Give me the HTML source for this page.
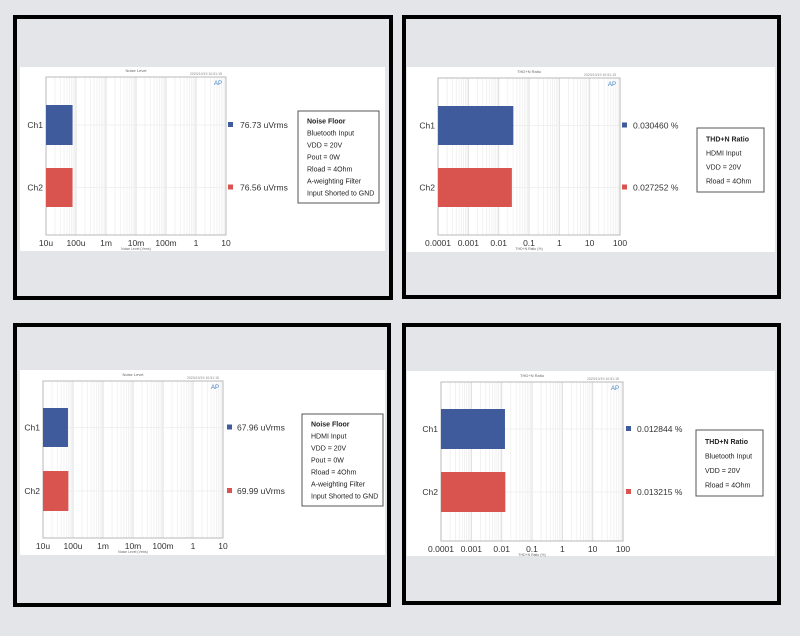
<!DOCTYPE html>
<html><head><meta charset="utf-8"><style>
html,body{margin:0;padding:0;background:#e3e5e8;}
svg{display:block;font-family:"Liberation Sans",sans-serif;}
</style></head><body>
<svg id="c" width="800" height="636" viewBox="0 0 800 636"></svg>
<script>
const channels = ["Ch1","Ch2"];
const p1Values = [76.73e-6, 76.56e-6];
const p2Values = [0.030460, 0.027252];
const p3Values = [67.96e-6, 69.99e-6];
const p4Values = [0.012844, 0.013215];
const p1Labels = ["76.73  uVrms","76.56  uVrms"];
const p2Labels = ["0.030460 %","0.027252 %"];
const p3Labels = ["67.96  uVrms","69.99  uVrms"];
const p4Labels = ["0.012844 %","0.013215 %"];
const noiseTicks = ["10u","100u","1m","10m","100m","1","10"];
const thdTicks = ["0.0001","0.001","0.01","0.1","1","10","100"];
const p1Legend = ["Noise Floor","Bluetooth Input","VDD = 20V","Pout = 0W","Rload = 4Ohm","A-weighting Filter","Input Shorted to GND"];
const p2Legend = ["THD+N Ratio","HDMI Input","VDD = 20V","Rload = 4Ohm"];
const p3Legend = ["Noise Floor","HDMI Input","VDD = 20V","Pout = 0W","Rload = 4Ohm","A-weighting Filter","Input Shorted to GND"];
const p4Legend = ["THD+N Ratio","Bluetooth Input","VDD = 20V","Rload = 4Ohm"];

const NS="http://www.w3.org/2000/svg";
const svg=document.getElementById('c');
function mk(tag,attrs,parent,name){const e=document.createElementNS(NS,tag);for(const k in attrs)e.setAttribute(k,attrs[k]);


(parent||svg).appendChild(e);return e;}

const panels=[
 {id:'p1',values:p1Values,labels:p1Labels,ticks:noiseTicks,legend:p1Legend,min:1e-5,title:'Noise Level',axis:'Noise Level (Vrms)',
  b:[13,15,393,300],w:[20,67,385,251],pl:[46,77,226,235],bars:[[105,145],[168,207]],sq:228,tx:240,lg:[298,111,379,203]},
 {id:'p2',values:p2Values,labels:p2Labels,ticks:thdTicks,legend:p2Legend,min:1e-4,title:'THD+N Ratio',axis:'THD+N Ratio (%)',
  b:[402,15,781,299],w:[407,67,775,252],pl:[438,78,620,235],bars:[[106,145],[168,207]],sq:622,tx:633,lg:[697,128,764,192]},
 {id:'p3',values:p3Values,labels:p3Labels,ticks:noiseTicks,legend:p3Legend,min:1e-5,title:'Noise Level',axis:'Noise Level (Vrms)',
  b:[13,323,391,607],w:[20,370,385,555],pl:[43,381,223,538],bars:[[408,447],[471,511]],sq:227,tx:237,lg:[302,414,383,506]},
 {id:'p4',values:p4Values,labels:p4Labels,ticks:thdTicks,legend:p4Legend,min:1e-4,title:'THD+N Ratio',axis:'THD+N Ratio (%)',
  b:[402,323,781,605],w:[407,371,775,556],pl:[441,382,623,541],bars:[[409,449],[472,512]],sq:626,tx:637,lg:[696,430,763,496]}
];
const colors=['#3f5b9b','#d9534f'];
panels.forEach(p=>{
 const g=mk('g',{},svg,p.id+'-panel');
 mk('rect',{x:p.b[0]+2,y:p.b[1]+2,width:p.b[2]-p.b[0]-4,height:p.b[3]-p.b[1]-4,fill:'#e3e5e8',stroke:'#000','stroke-width':4},g,'panel-frame');
 mk('rect',{x:p.w[0],y:p.w[1],width:p.w[2]-p.w[0],height:p.w[3]-p.w[1],fill:'#fff'},g,'chart-background');
 const [x0,y0,x1,y1]=p.pl; const dec=p.ticks.length-1;
 const xs=v=>x0+Math.log10(v/p.min)/dec*(x1-x0);
 // grid
 for(let d=0;d<dec;d++){for(let m=1;m<10;m++){const v=p.min*Math.pow(10,d)*m;const x=xs(v);
  mk('line',{x1:x,y1:y0,x2:x,y2:y1,stroke:m===1?'#dcdcdc':'#efefef','stroke-width':m===1?1:0.8},g,'grid-line');}}
 p.bars.forEach(b=>{const cy=(b[0]+b[1])/2;mk('line',{x1:x0,y1:cy,x2:x1,y2:cy,stroke:'#ececec','stroke-width':0.8},g,'grid-line');});
 mk('rect',{x:x0,y:y0,width:x1-x0,height:y1-y0,fill:'none',stroke:'#b8b8b8','stroke-width':1},g,'plot-area');
 const t=mk('text',{x:(x0+x1)/2,y:y0-5,'font-size':4,'text-anchor':'middle',fill:'#666'},g,'chart-title');t.textContent=p.title;
 const dt=mk('text',{x:x1-4,y:y0-2,'font-size':3.5,'text-anchor':'end',fill:'#888'},g,'timestamp');dt.textContent='2020/10/19 10:51:15';
 const ap=mk('text',{x:x1-4,y:y0+8,'font-size':6,'text-anchor':'end',fill:'#3a7fc1'},g,'ap-logo');ap.textContent='AP';
 p.ticks.forEach((tk,i)=>{const e=mk('text',{x:x0+i*(x1-x0)/dec,y:y1+11,'font-size':8.5,'text-anchor':'middle',fill:'#333'},g,'x-tick-label');e.textContent=tk;});
 const at=mk('text',{x:(x0+x1)/2,y:y1+15,'font-size':3.5,'text-anchor':'middle',fill:'#666'},g,'x-axis-title');at.textContent=p.axis;
 p.values.forEach((v,i)=>{const b=p.bars[i];const cy=(b[0]+b[1])/2;
  mk('rect',{x:x0,y:b[0],width:xs(v)-x0,height:b[1]-b[0],fill:colors[i]},g,'bar-'+channels[i].toLowerCase());
  const cl=mk('text',{x:x0-3,y:cy+3,'font-size':8.5,'text-anchor':'end',fill:'#333'},g,'y-tick-label');cl.textContent=channels[i];
  mk('rect',{x:p.sq,y:cy-3,width:5,height:5,fill:colors[i]},g,'value-marker');
  const vl=mk('text',{x:p.tx,y:cy+3,'font-size':8.5,fill:'#333'},g,'value-label');vl.textContent=p.labels[i];
 });
 const [lx0,ly0,lx1,ly1]=p.lg;
 mk('rect',{x:lx0,y:ly0,width:lx1-lx0,height:ly1-ly0,fill:'#fff',stroke:'#555','stroke-width':1},g,'legend-box');
 const n=p.legend.length; const step=(ly1-ly0-8)/n;
 p.legend.forEach((s,i)=>{const e=mk('text',{x:lx0+9,y:ly0+4+step*(i+0.5)+2.5,'font-size':7,fill:'#222','font-weight':i===0?'bold':'normal'},g,'legend-entry');e.textContent=s;});
});
</script>
</body></html>
